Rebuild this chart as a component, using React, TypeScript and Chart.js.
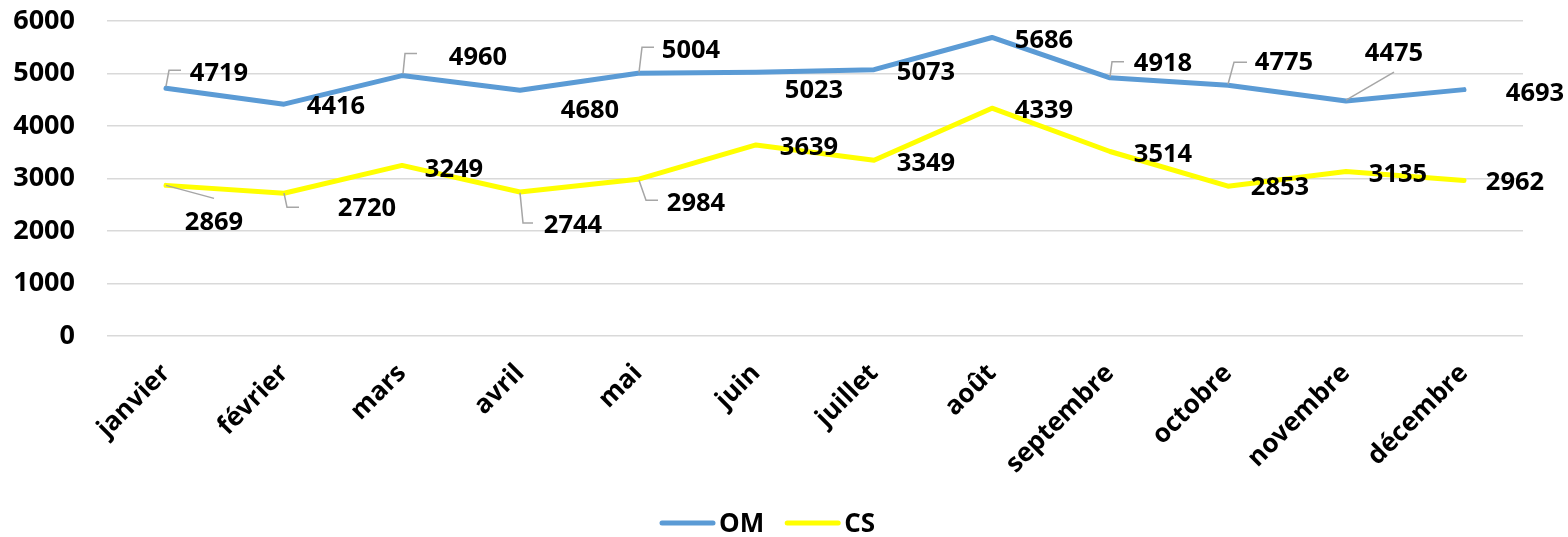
import { useEffect, useRef } from 'react';
import { Chart, registerables } from 'chart.js';

Chart.register(...registerables);

const MONTHS = ['janvier', 'février', 'mars', 'avril', 'mai', 'juin', 'juillet', 'août', 'septembre', 'octobre', 'novembre', 'décembre'];
const OM_VALUES = [4719, 4416, 4960, 4680, 5004, 5023, 5073, 5686, 4918, 4775, 4475, 4693];
const CS_VALUES = [2869, 2720, 3249, 2744, 2984, 3639, 3349, 4339, 3514, 2853, 3135, 2962];
const Y_MIN = 0;
const Y_MAX = 6000;
const Y_STEP = 1000;

// label placement (offset of label centre from its point, in px)
const OM_LABEL_OFFSETS = [[53, -16], [52, 1], [76, -20], [70, 19], [53, -24], [58, 17], [52, 1], [52, 1], [53, -16], [56, -24], [48, -49], [71, 2]];
const CS_LABEL_OFFSETS = [[48, 36], [83, 14], [52, 2], [53, 32], [58, 23], [53, 1], [52, 2], [52, 1], [53, 1], [52, 0], [52, 1], [51, 0]];
// leader lines (relative polyline from the point), null = none
const OM_LEADERS: (number[][] | null)[] = [
  [[0, -2], [3, -18], [15, -18]], null, [[1, -2], [3, -22], [15, -22]], null,
  [[1, -1], [4, -26], [16, -26]], null, null, null,
  [[0, -1], [2, -16], [14, -16]], [[0, -1], [6, -23], [19, -23]], [[0, -1], [48, -29]], null,
];
const CS_LEADERS: (number[][] | null)[] = [
  [[0, 0], [48, 13]], [[0, 0], [3, 14], [15, 14]], null, [[0, 1], [3, 31], [13, 31]],
  [[1, 1], [8, 21], [20, 21]], null, null, null, null, null, null, null,
];

const FONT = '"Open Sans", "DejaVu Sans", sans-serif';

const valueLabelPlugin = {
  id: 'valueLabels',
  afterDatasetsDraw(chart: any) {
    const ctx = chart.ctx;
    const offsets = [OM_LABEL_OFFSETS, CS_LABEL_OFFSETS];
    const leaders = [OM_LEADERS, CS_LEADERS];
    ctx.save();
    chart.data.datasets.forEach((ds: any, di: number) => {
      const meta = chart.getDatasetMeta(di);
      meta.data.forEach((pt: any, i: number) => {
        const lead = leaders[di][i];
        if (lead) {
          ctx.beginPath();
          ctx.strokeStyle = '#A6A6A6';
          ctx.lineWidth = 1.5;
          lead.forEach((p: number[], k: number) => {
            if (k === 0) ctx.moveTo(pt.x + p[0], pt.y + p[1]);
            else ctx.lineTo(pt.x + p[0], pt.y + p[1]);
          });
          ctx.stroke();
        }
        const [dx, dy] = offsets[di][i];
        const size = 25.5;
        ctx.font = `bold ${size}px ${FONT}`;
        ctx.fillStyle = '#000000';
        ctx.textAlign = 'center';
        ctx.textBaseline = 'alphabetic';
        ctx.fillText(String(ds.data[i]), pt.x + dx, pt.y + dy + size * 0.357);
      });
    });
    ctx.restore();
  },
};

const legendPlugin = {
  id: 'customLegend',
  afterDraw(chart: any) {
    const ctx = chart.ctx;
    ctx.save();
    const size = 26;
    ctx.font = `bold ${size}px ${FONT}`;
    const y = 523;
    let x = 660;
    chart.data.datasets.forEach((ds: any) => {
      ctx.beginPath();
      ctx.strokeStyle = ds.borderColor;
      ctx.lineWidth = 5;
      ctx.lineCap = 'round';
      ctx.moveTo(x + 2, y);
      ctx.lineTo(x + 53, y);
      ctx.stroke();
      ctx.fillStyle = '#000000';
      ctx.textAlign = 'left';
      ctx.textBaseline = 'alphabetic';
      ctx.fillText(ds.label, x + 59, y + size * 0.357);
      x += 59 + ctx.measureText(ds.label).width + 21;
    });
    ctx.restore();
  },
};

export default function App() {
  const ref = useRef<HTMLCanvasElement | null>(null);
  useEffect(() => {
    document.body.style.margin = '0';
    const canvas = ref.current;
    if (!canvas) return;
    const chart = new Chart(canvas, {
      type: 'line',
      data: {
        labels: MONTHS,
        datasets: [
          {
            label: 'OM',
            data: OM_VALUES,
            borderColor: '#5B9BD5',
            backgroundColor: '#5B9BD5',
            borderWidth: 5,
            pointRadius: 0,
            tension: 0,
            borderCapStyle: 'round',
            borderJoinStyle: 'round',
          },
          {
            label: 'CS',
            data: CS_VALUES,
            borderColor: '#FFFF00',
            backgroundColor: '#FFFF00',
            borderWidth: 5,
            pointRadius: 0,
            tension: 0,
            borderCapStyle: 'round',
            borderJoinStyle: 'round',
          },
        ],
      },
      options: {
        animation: false,
        responsive: false,
        devicePixelRatio: 1,
        layout: { padding: { top: 21, right: 45, bottom: 0, left: 0 } },
        plugins: {
          legend: { display: false },
          tooltip: { enabled: false },
        },
        scales: {
          x: {
            type: 'category',
            offset: true,
            grid: { display: false, drawTicks: false },
            border: { display: false },
            ticks: {
              autoSkip: false,
              minRotation: 45,
              maxRotation: 45,
              padding: 22,
              color: '#000000',
              font: { family: FONT, size: 26, weight: 'bold' },
            },
            afterFit(scale: any) {
              scale.height = 201;
              scale.paddingTop = 0;
            },
          },
          y: {
            min: Y_MIN,
            max: Y_MAX,
            ticks: {
              stepSize: Y_STEP,
              padding: 32,
              color: '#000000',
              font: { family: FONT, size: 27, weight: 'bold' },
              callback: (v: any) => String(v),
            },
            grid: { color: '#D9D9D9', lineWidth: 1.5, drawTicks: false },
            border: { display: false },
            afterFit(scale: any) {
              scale.width = 107;
              scale.paddingTop = 0;
              scale.paddingBottom = 0;
            },
          },
        },
      },
      plugins: [valueLabelPlugin, legendPlugin],
    } as any);
    return () => chart.destroy();
  }, []);
  return (
    <div style={{ width: 1568, height: 537 }}>
      <canvas ref={ref} width={1568} height={537} style={{ display: 'block' }} />
    </div>
  );
}
